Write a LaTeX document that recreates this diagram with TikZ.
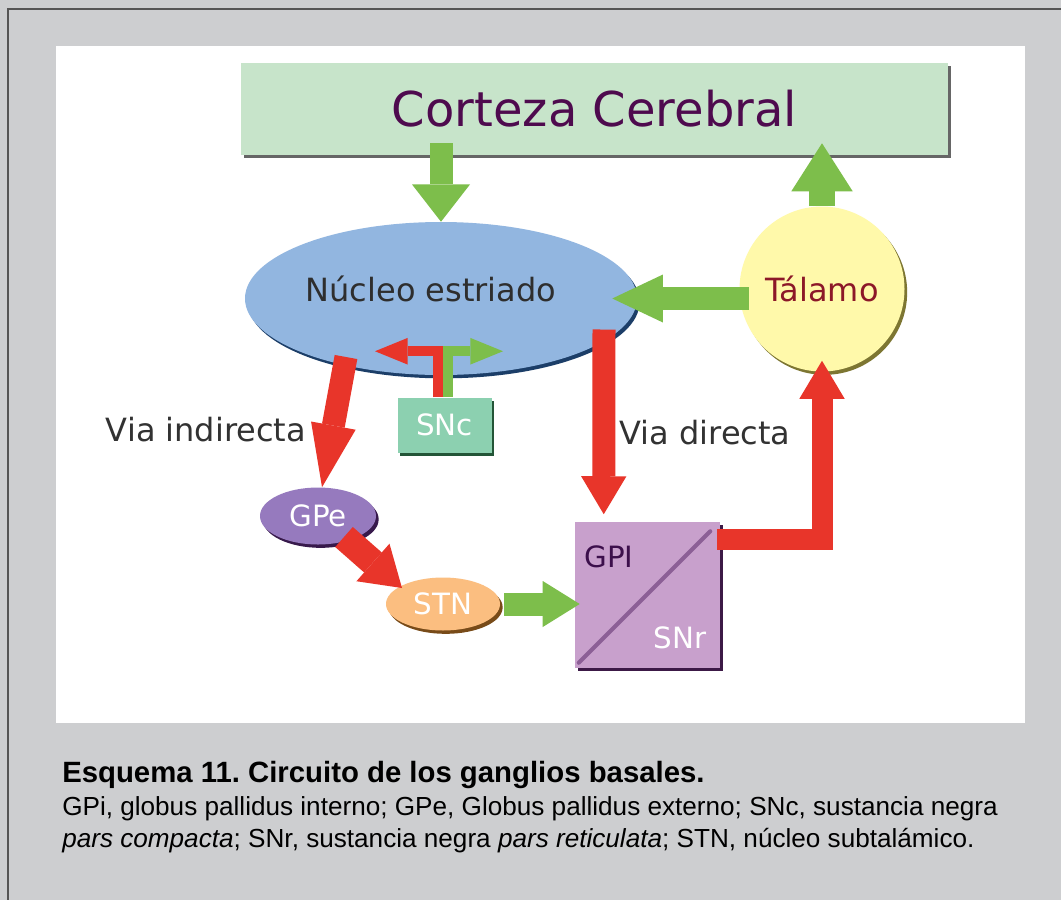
\documentclass[tikz,border=0pt]{standalone}
\usepackage{fontspec}
\setmainfont{Liberation Sans}
\newfontfamily\diagfont{DejaVu Sans}
\usetikzlibrary{arrows.meta}
\usetikzlibrary{shapes.geometric}
\usetikzlibrary{shadows}
\usetikzlibrary{calc}
\frenchspacing

\definecolor{bggray}{RGB}{205,206,208}
\definecolor{framegray}{RGB}{85,85,85}
\definecolor{cortexgreen}{RGB}{199,228,202}
\definecolor{cortexpurple}{RGB}{78,10,78}
\definecolor{nucleusblue}{RGB}{146,182,224}
\definecolor{nucleusdark}{RGB}{28,62,104}
\definecolor{thalyellow}{RGB}{255,249,170}
\definecolor{thaldark}{RGB}{125,118,50}
\definecolor{thalred}{RGB}{140,24,40}
\definecolor{sncgreen}{RGB}{140,208,176}
\definecolor{sncdark}{RGB}{35,85,55}
\definecolor{gpepurple}{RGB}{150,122,190}
\definecolor{gpedark}{RGB}{55,25,75}
\definecolor{stnorange}{RGB}{251,190,128}
\definecolor{stndark}{RGB}{120,75,25}
\definecolor{gpililac}{RGB}{200,160,204}
\definecolor{gpidark}{RGB}{60,25,70}
\definecolor{gpiline}{RGB}{140,95,150}
\definecolor{gpitext}{RGB}{60,15,75}
\definecolor{arrowgreen}{RGB}{125,190,75}
\definecolor{arrowred}{RGB}{232,53,42}
\definecolor{labelgray}{RGB}{50,50,50}

\begin{document}
\begin{tikzpicture}[x=0.75pt, y=-0.75pt,
    shapebox/.style={inner sep=0pt, font=\diagfont\fontsize{22}{26}\selectfont},
    shadowed/.style={drop shadow={shadow xshift=2pt, shadow yshift=-2.5pt, fill=#1, opacity=1}},
    fatarrow/.style n args={3}{line width=#1, line join=miter, -{Triangle[width=#2, length=#3, line width=0pt]}},
    pathlabel/.style={font=\diagfont\fontsize{24}{28}\selectfont, text=labelgray},
    caption/.style={anchor=base west, inner sep=0pt, text=black}]

    \def\shaft{17.25pt}
    \def\headw{34pt}
    \def\headl{28.5pt}

    \useasboundingbox (0,0) rectangle (1061,900);
    \fill[bggray] (0,0) rectangle (1061,900);
    \draw[framegray, line width=1.2pt] (8,900) -- (8,9) -- (1061,9);
    \fill[white] (56,46) rectangle (1025,723);

    % cortex, striatum and thalamus
    \node[shapebox, rectangle, fill=cortexgreen, shadowed=black!60, minimum width=530pt, minimum height=69pt,
          font=\diagfont\fontsize{36}{40}\selectfont, text=cortexpurple] (cortex) at (594.5,109) {Corteza Cerebral};
    \node[shapebox, ellipse, fill=nucleusblue, shadowed=nucleusdark, minimum width=294pt, minimum height=114.75pt,
          label={[pathlabel, text=black!82, xshift=-7.5pt, yshift=7.5pt]center:Núcleo estriado}] (nucleus) at (441,298.5) {};
    \node[shapebox, circle, fill=thalyellow, shadowed=thaldark, minimum size=123.75pt,
          font=\diagfont\fontsize{24}{28}\selectfont, text=thalred] (thal) at (822,289) {Tálamo};

    \draw[arrowgreen, fatarrow={\shaft}{43.5pt}{28pt}] ($(cortex.south -| nucleus.north)+(0,-12)$) -- (nucleus.north);
    \draw[arrowgreen, fatarrow={19pt}{46pt}{36pt}] (thal.north) -- ($(thal.north |- cortex.south)+(0,-12)$);
    \draw[arrowgreen, fatarrow={\shaft}{36pt}{38pt}] ($(thal.west |- nucleus.east)+(10,0)$) -- ($(nucleus.east)+(-25,0)$);

    % SNc
    \node[shapebox, rectangle, fill=sncgreen, shadowed=sncdark, minimum width=70.5pt, minimum height=41.25pt,
          text=white] (snc) at (444.5,425) {SNc};
    \draw[arrowred, fatarrow={7.5pt}{20pt}{24.5pt}] (snc.north) ++(-6.5,0) |- ++(-63,-46);
    \draw[arrowgreen, fatarrow={7.5pt}{20pt}{24.5pt}] (snc.north) ++(3.5,0) |- ++(55,-46);

    % indirect pathway
    \node[shapebox, ellipse, fill=gpepurple, shadowed=gpedark, minimum width=87pt, minimum height=42.75pt,
          text=white] (gpe) at (318,516) {GPe};
    \node[shapebox, ellipse, fill=stnorange, shadowed=stndark, minimum width=85.5pt, minimum height=39.75pt,
          text=white] (stn) at (443,604) {STN};
    \draw[arrowred, fatarrow={\shaft}{\headw}{47pt}] ($(nucleus.center)+(-95,58.5)$) -- ($(gpe.north)+(4,0)$);
    \draw[arrowred, fatarrow={20pt}{37.5pt}{29pt}] ($(gpe.center)+(26,21)$) -- ($(stn.center)+(-41,-16)$);
    \node[pathlabel] (indirect) at (206,430) {Via indirecta};

    % GPi / SNr and direct pathway
    \node[shapebox, rectangle, fill=gpililac, shadowed=gpidark, minimum width=108.75pt, minimum height=109.5pt] (gpi) at (647.5,594.5) {};
    \draw[gpiline, line width=3pt, line cap=round] ($(gpi.south west)+(4,-5)$) -- ($(gpi.north east)+(-10,10)$);
    \node[shapebox, text=gpitext] (gpitext) at (609,557) {GPI};
    \node[shapebox, text=white] (snrtext) at (680,638) {SNr};

    \draw[arrowgreen, fatarrow={\shaft}{34.5pt}{27.75pt}] ($(stn.east)+(4,0)$) -- ($(stn.east -| gpi.west)+(5,0)$);
    \draw[arrowred, fatarrow={\shaft}{\headw}{\headl}] ($(nucleus.center)+(163,31)$) -- ($(gpi.north west)+(29,-7)$);
    \draw[arrowred, fatarrow={15.75pt}{\headw}{\headl}] ($(gpi.north east)+(-3,18.5)$) -| ($(thal.south)+(0,-11)$);
    \node[pathlabel] (direct) at (705,433) {Via directa};

    % caption
    \node[caption, font=\bfseries\fontsize{22}{26}\selectfont] (captitle) at (62,782) {Esquema 11. Circuito de los ganglios basales.};
    \node[caption, font=\fontsize{19.6}{24}\selectfont] (capline) at (62,815) {GPi, globus pallidus interno; GPe, Globus pallidus externo; SNc, sustancia negra};
    \node[caption, font=\fontsize{19.6}{24}\selectfont] (caplinetwo) at (62,847) {\textit{pars compacta}; SNr, sustancia negra \textit{pars reticulata}; STN, núcleo subtalámico.};

\end{tikzpicture}
\end{document}
